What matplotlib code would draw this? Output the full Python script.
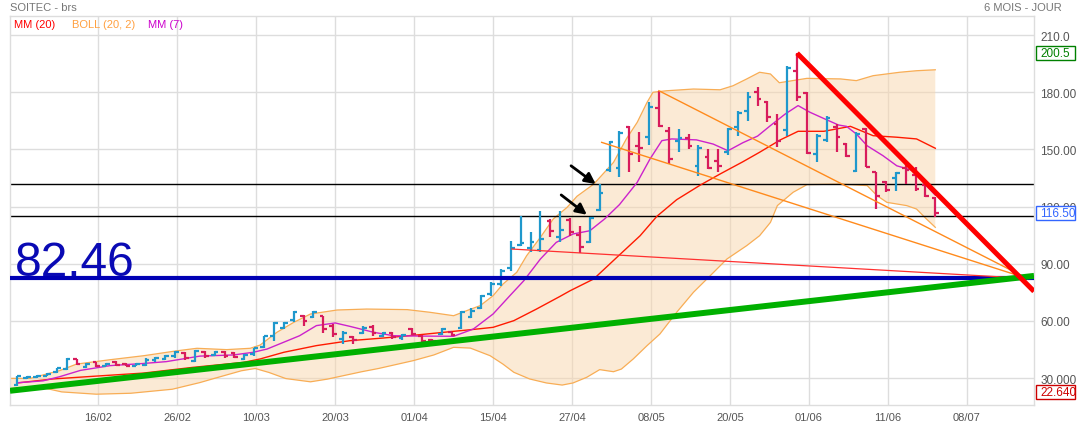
import matplotlib
matplotlib.use("Agg")
import matplotlib.pyplot as plt
from matplotlib.patches import Rectangle
from matplotlib.transforms import blended_transform_factory

plt.rcParams["font.family"] = ["Liberation Sans", "DejaVu Sans"]

# daily bars (index 0 = first session shown)
opens = [26.3, 29.8, 30.3, 31.3, 33.2, 34.8, 39.8, 36.0, 38.2, 36.4,
         38.3, 37.5, 36.5, 37.0, 39.2, 40.0, 41.3, 43.0, 39.0, 43.8,
         42.3, 43.8, 43.0, 40.2, 42.5, 46.5, 52.2, 56.5, 60.5, 62.5,
         62.0, 62.5, 57.5, 50.5, 51.5, 53.8, 57.0, 52.0, 53.5, 50.8,
         55.5, 52.0, 50.0, 53.0, 54.0, 56.0, 62.0, 67.0, 74.0, 79.5,
         88.0, 99.8, 98.0, 97.0, 112.6, 104.0, 113.0, 105.0, 101.6, 118.4,
         139.0, 140.0, 161.5, 152.0, 156.4, 171.7, 159.8, 154.5, 156.0, 141.4,
         146.0, 144.0, 148.8, 161.6, 170.0, 180.3, 175.0, 163.3, 160.3, 191.4,
         179.6, 147.6, 155.0, 162.0, 152.9, 138.5, 160.7, 138.0, 133.0, 134.9,
         140.0, 136.5, 131.4, 124.3]
highs = [31.2, 31.0, 31.6, 32.6, 35.4, 40.3, 40.0, 37.9, 38.6, 37.9,
         38.9, 37.9, 37.9, 40.3, 41.0, 42.1, 44.2, 43.5, 44.5, 44.2,
         44.2, 44.2, 43.8, 42.4, 45.9, 52.2, 59.2, 59.6, 65.3, 63.1,
         65.3, 62.7, 58.3, 54.8, 52.2, 57.1, 57.8, 54.3, 54.3, 53.1,
         56.1, 52.6, 50.5, 56.1, 54.3, 65.3, 66.6, 73.6, 80.6, 87.2,
         102.1, 114.9, 106.5, 117.8, 113.5, 117.8, 113.8, 109.9, 114.4, 131.8,
         154.6, 159.8, 162.4, 159.0, 174.7, 180.8, 161.6, 160.7, 158.1, 152.3,
         150.2, 150.2, 161.1, 170.3, 180.0, 182.6, 175.6, 168.6, 193.6, 200.5,
         180.0, 158.1, 167.4, 163.3, 153.4, 159.0, 161.1, 138.3, 133.6, 138.0,
         143.2, 140.6, 132.7, 124.9]
lows = [25.6, 29.5, 29.9, 30.9, 32.6, 34.2, 36.8, 35.4, 35.8, 36.1,
        36.5, 36.1, 36.1, 36.1, 38.6, 39.3, 40.7, 39.6, 38.2, 40.7,
        41.7, 40.7, 40.7, 39.6, 41.7, 45.6, 49.6, 55.7, 59.6, 57.5,
        61.3, 53.6, 51.3, 47.8, 47.8, 53.1, 52.2, 51.3, 50.5, 50.1,
        52.6, 48.7, 48.7, 52.6, 52.2, 55.7, 61.3, 66.2, 73.2, 78.5,
        86.3, 99.5, 96.0, 96.0, 103.9, 101.2, 104.7, 95.6, 100.9, 117.8,
        138.0, 135.4, 138.3, 143.2, 152.3, 161.6, 142.3, 148.8, 150.2, 136.2,
        139.7, 138.0, 147.1, 157.2, 165.0, 173.0, 164.2, 151.1, 157.2, 175.6,
        147.6, 143.2, 153.7, 148.5, 145.8, 138.0, 140.6, 118.7, 127.5, 128.3,
        131.8, 128.3, 124.9, 114.4]
closes = [30.8, 30.6, 31.2, 32.3, 35.0, 40.0, 37.5, 37.5, 36.2, 37.6,
          37.0, 36.5, 37.6, 39.5, 40.6, 41.5, 43.5, 40.5, 44.0, 41.5,
          43.8, 41.5, 41.2, 42.0, 45.5, 51.9, 59.0, 59.0, 64.8, 60.0,
          64.5, 55.5, 53.0, 53.5, 50.0, 56.0, 53.5, 53.8, 51.5, 52.5,
          53.2, 49.5, 49.2, 55.5, 52.8, 64.5, 65.0, 73.0, 79.5, 86.0,
          98.0, 100.8, 101.5, 103.0, 107.3, 107.5, 106.7, 98.6, 113.8, 127.0,
          154.0, 158.5, 147.6, 151.0, 172.0, 162.5, 145.0, 155.8, 151.8, 150.5,
          140.5, 141.5, 160.5, 169.0, 177.5, 176.4, 167.0, 154.6, 192.5, 177.4,
          148.1, 157.2, 166.3, 156.3, 146.8, 158.0, 141.0, 125.7, 128.8, 137.6,
          139.0, 129.2, 125.7, 116.5]

# indicator traces (bar index, price)
mm20_x = [0, 3.6, 7.7, 12.8, 17.8, 22.9, 24.6, 27, 30.3, 33.7, 37.1, 40.5,
          43.8, 46.2, 48.2, 50.3, 52.6, 55, 56, 58.4, 61, 63.1, 64.8, 66.8, 69.2, 71.2,
          73.5, 75.2, 77.3, 79.1, 81.7, 84.4, 86.7, 89.1, 91.1, 93]
mm20_y = [27.4, 29.5, 30.9, 32.6, 35.6, 38.2, 40.0, 43.5, 47.0, 49.6, 51.0, 52.6,
          54.3, 55.5, 56.6, 60.1, 66.2, 72.9, 75.8, 82.0, 94.6, 104.7, 114.9, 123.6, 131.3, 137.1,
          143.5, 148.5, 155.0, 159.5, 159.5, 162.1, 157.2, 156.4, 155.5, 150.6]
mm7_x = [0, 2.6, 4.3, 6.4, 9.4, 12.7, 15.1, 18.5, 21.9, 23.9, 25.3, 27, 28.6,
         30.3, 32.2, 33.7, 36.1, 38.1, 41, 44.2, 46.2, 48.2, 49.9, 51.3, 53,
         54.6, 56.3, 58, 59.5, 61, 62.8, 64.1, 65.3, 66.3, 68.8, 70.5, 72, 73.5,
         75, 76.3, 77.8, 79.1, 80.3, 81.8, 83.2, 84, 85, 86.1, 87.7, 89.1, 90.8,
         92.1, 93]
mm7_y = [27.5, 28.5, 30.7, 34.0, 36.5, 37.6, 38.6, 41.5, 42.1, 43.5, 45.2, 48.8, 52.2,
         57.5, 58.9, 57.1, 54.0, 52.2, 52.0, 51.9, 55.7, 63.6, 73.2, 81.0, 92.5,
         101.2, 105.6, 107.3, 113.5, 121.0, 132.7, 145.0, 154.6, 155.5, 155.0, 152.8, 149.3, 153.5,
         157.0, 162.5, 168.6, 173.0, 169.5, 166.0, 162.8, 162.1, 158.1, 151.9, 146.7, 141.4, 138.8,
         130.9, 126.0]
boll_up_x = [-0.74, 1.3, 4.3, 6, 9.4, 12.8, 16.2, 18.2, 21.2, 23.6, 24.6, 26.3, 28,
             29.7, 32.4, 35.4, 39.5, 41.8, 44.2, 45.5, 46.9, 48.2, 49.2, 50.6, 51.6, 53,
             54.3, 55.7, 56.7, 58.4, 60.4, 61.7, 62.8, 63.8, 64.4, 65.8, 68.5, 71.2,
             72.5, 73.9, 75.2, 76.3, 77.2, 80, 83.4, 85, 86.7, 89.4, 91.1, 93]
boll_up_y = [29.8, 29.8, 33.9, 37.3, 39.6, 41.7, 44.3, 45.6, 44.9, 45.6, 47.3, 54.0, 59.2,
             63.6, 65.7, 66.2, 65.9, 64.5, 62.7, 65.3, 68.0, 73.2, 79.3, 85.5, 94.2, 103.9,
             113.5, 119.6, 125.4, 131.8, 143.2, 155.5, 164.2, 174.7, 180.0, 180.8, 181.7, 181.3,
             183.4, 187.0, 190.5, 189.6, 185.0, 187.3, 187.0, 186.1, 188.7, 190.5, 191.3, 191.8]
boll_lo_x = [-0.74, 2.1, 4.5, 8, 11.5, 15.7, 18.5, 19.9, 22.7, 24.1, 25.5, 27.2,
             29.7, 31.4, 34.9, 36.6, 40.1, 42.2, 44.2, 45.9, 47.9, 49.2, 50.3, 51.9,
             53.6, 55.2, 56.3, 57.7, 59, 60.4, 61.2, 62.4, 63.8, 65.1, 66.8, 68.5,
             70.2, 71.9, 73.9, 75.2, 76.3, 77, 78.6, 80, 83.4, 86.1, 87.1, 88.1,
             90.1, 91.1, 92.1, 93]
boll_lo_y = [24.5, 25.5, 22.7, 21.5, 22.0, 24.1, 27.6, 29.7, 33.8, 35.0, 32.9, 29.7,
             28.0, 29.4, 33.3, 35.0, 39.1, 42.1, 46.1, 45.7, 41.7, 37.3, 33.0, 29.5,
             27.4, 26.3, 27.4, 30.4, 34.4, 33.3, 34.7, 40.0, 47.0, 53.1, 64.5, 75.0,
             83.7, 92.5, 99.5, 104.7, 111.7, 120.5, 127.5, 131.5, 131.8, 131.0, 125.7, 122.2,
             120.5, 118.7, 113.5, 109.1]

# drawn studies
support_level = 82.46
black_levels = [131.7, 115.0]
green_trend = ([-0.74, 103.0], [23.3, 83.6])
red_trend = ([79, 103.0], [200.5, 75.5])
fan_thin_red = ([50.1, 102.3], [97.7, 82.3])
fan_orange = [([65, 102.3], [180.8, 82.3]), ([59.2, 102.3], [153.7, 82.3])]
arrows = [((56.1, 141.4), (58.6, 131.8)), ((55.1, 126.1), (57.7, 115.7))]

date_labels = ["16/02", "26/02", "10/03", "20/03", "01/04", "15/04",
               "27/04", "08/05", "20/05", "01/06", "11/06", "08/07"]
date_pos = [8.2 + 8 * k for k in range(len(date_labels))]
y_ticks = [30, 60, 90, 120, 150, 180, 210]
y_tick_labels = ["30.000", "60.00", "90.00", "120.00", "150.00", "180.00", "210.0"]
markers = [(200.5, "200.5", "#008000"), (116.5, "116.50", "#3366ff"),
           (22.64, "22.640", "#cc0000")]

UP = "#1f98cc"
DOWN = "#d81c5c"
GRID = "#dddddd"

fig = plt.figure(figsize=(10.79, 4.27), dpi=100)
ax = fig.add_axes([10 / 1079, 21 / 427, 1024 / 1079, 389 / 427])
ax.set_xlim(-0.74, 103.0)
ax.set_ylim(15.83, 220.03)

# bollinger band (upper and lower traces are sampled separately)
poly_x = boll_up_x + boll_lo_x[::-1]
poly_y = boll_up_y + boll_lo_y[::-1]
ax.fill(poly_x, poly_y, color="#f9d7ac", alpha=0.5, lw=0, zorder=1)
ax.plot(boll_up_x, boll_up_y, color="#f8ad55", lw=0.9, zorder=1.5)
ax.plot(boll_lo_x, boll_lo_y, color="#f8ad55", lw=0.9, zorder=1.5)

for lvl in black_levels:
    ax.axhline(lvl, color="black", lw=1.0, zorder=2)

ax.plot(mm20_x, mm20_y, color="#ff1a00", lw=1.0, zorder=3)
ax.plot(mm7_x, mm7_y, color="#cc22cc", lw=1.0, zorder=3)

# OHLC bars
for i in range(len(opens)):
    c = UP if closes[i] >= opens[i] else DOWN
    ax.vlines(i, lows[i], highs[i], color=c, lw=1.6, zorder=4)
    ax.hlines(opens[i], i - 0.38, i, color=c, lw=1.6, zorder=4)
    ax.hlines(closes[i], i, i + 0.38, color=c, lw=1.6, zorder=4)

ax.axhline(support_level, color="#0000b4", lw=3.0, zorder=4.5)
ax.text(-0.23, support_level + 1.6, f"{support_level:.2f}", color="#0a0ab4",
        fontsize=34.5, ha="left", va="baseline", zorder=6)

ax.plot(*fan_thin_red, color="#ff3030", lw=0.9, zorder=4.6)
for fx, fy in fan_orange:
    ax.plot(fx, fy, color="#ff8a1c", lw=1.0, zorder=4.6)
ax.plot(*green_trend, color="#00b000", lw=4.3, zorder=5, solid_capstyle="butt")
ax.plot(*red_trend, color="#ff0000", lw=3.6, zorder=5, solid_capstyle="butt")

for tail, head in arrows:
    ax.annotate("", xy=head, xytext=tail,
                arrowprops=dict(arrowstyle="-|>", color="black", lw=2.0,
                                mutation_scale=16, shrinkA=0, shrinkB=0),
                zorder=6)

# axes cosmetics
ax.set_xticks(date_pos)
ax.set_xticklabels(date_labels)
ax.set_yticks(y_ticks)
ax.set_yticklabels(y_tick_labels)
ax.yaxis.tick_right()
ax.tick_params(axis="x", length=0, pad=5, labelsize=8, labelcolor="#555555")
ax.tick_params(axis="y", length=0, pad=4.5, labelsize=8.5, labelcolor="#555555")
ax.grid(True, color=GRID, lw=1.0)
ax.set_axisbelow(True)
for s in ax.spines.values():
    s.set_color(GRID)
    s.set_linewidth(1.0)

trans = blended_transform_factory(ax.transAxes, ax.transData)
for val, txt, col in markers:
    ax.add_patch(Rectangle((1.0015, val - 3.7), 0.039, 7.4, transform=trans,
                           facecolor="white", edgecolor=col, lw=1.0,
                           clip_on=False, zorder=7))
    ax.text(1.0059, val, txt, transform=trans, color=col, fontsize=8.5,
            ha="left", va="center", clip_on=False, zorder=8)

fig.text(10 / 1079, 1 - 8 / 427, "SOITEC - brs", color="#777777", fontsize=8,
         ha="left", va="center")
fig.text(1062 / 1079, 1 - 8 / 427, "6 MOIS - JOUR", color="#777777", fontsize=8,
         ha="right", va="center")
legend_items = [("MM (20)", "#ff0000", 14), ("BOLL (20, 2)", "#ffa040", 72),
                ("MM (7)", "#cc00cc", 148)]
for txt, col, px in legend_items:
    fig.text(px / 1079, 1 - 25 / 427, txt, color=col, fontsize=8,
             ha="left", va="center")

fig.savefig("out.png", dpi=100)
